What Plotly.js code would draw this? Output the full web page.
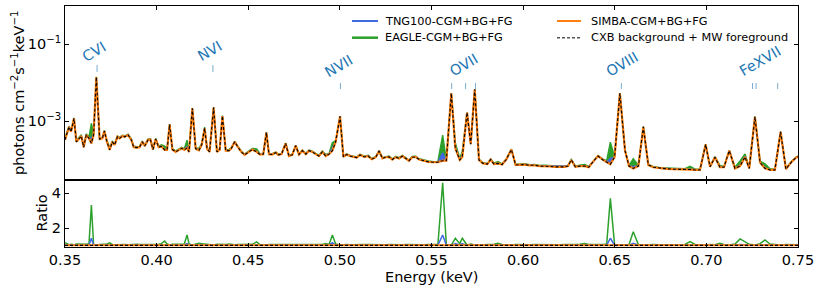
<!DOCTYPE html>
<html><head><meta charset="utf-8">
<script src="https://cdn.plot.ly/plotly-3.0.1.min.js"></script>
<style>html,body{margin:0;padding:0;background:#fff;}#chart{width:822px;height:291px;}</style>
</head><body><div id="chart"></div>
<script>
// ---------------- DATA ----------------
const energy = [
0.3500,0.3522,0.3533,0.3549,0.3562,0.3580,0.3589,0.3602,0.3616,0.3631,
0.3644,0.3656,0.3671,0.3689,0.3704,0.3715,0.3729,0.3744,0.3758,0.3771,
0.3786,0.3798,0.3813,0.3826,0.3844,0.3862,0.3875,0.3893,0.3907,0.3922,
0.3935,0.3953,0.3966,0.3980,0.3995,0.4011,0.4026,0.4044,0.4057,0.4071,
0.4086,0.4104,0.4122,0.4137,0.4151,0.4166,0.4177,0.4195,0.4213,0.4231,
0.4246,0.4262,0.4275,0.4289,0.4311,0.4329,0.4344,0.4359,0.4377,0.4395,
0.4408,0.4426,0.4444,0.4462,0.4480,0.4499,0.4522,0.4546,0.4564,0.4582,
0.4599,0.4613,0.4631,0.4650,0.4664,0.4682,0.4704,0.4722,0.4740,0.4759,
0.4777,0.4795,0.4814,0.4832,0.4850,0.4868,0.4886,0.4904,0.4923,0.4941,
0.4959,0.4977,0.5001,0.5019,0.5037,0.5055,0.5073,0.5092,0.5110,0.5133,
0.5155,0.5174,0.5196,0.5214,0.5232,0.5250,0.5268,0.5286,0.5305,0.5323,
0.5341,0.5359,0.5377,0.5395,0.5414,0.5432,0.5455,0.5483,0.5510,0.5535,
0.5561,0.5581,0.5608,0.5630,0.5654,0.5668,0.5694,0.5714,0.5736,0.5759,
0.5781,0.5805,0.5823,0.5841,0.5863,0.5885,0.5908,0.5936,0.5959,0.5981,
0.6009,0.6036,0.6063,0.6091,0.6118,0.6145,0.6172,0.6200,0.6227,0.6245,
0.6263,0.6285,0.6309,0.6336,0.6358,0.6381,0.6409,0.6436,0.6456,0.6476,
0.6499,0.6528,0.6556,0.6578,0.6601,0.6629,0.6656,0.6683,0.6710,0.6747,
0.6783,0.6820,0.6856,0.6883,0.6911,0.6938,0.6965,0.6996,0.7020,0.7047,
0.7074,0.7096,0.7125,0.7156,0.7184,0.7211,0.7234,0.7265,0.7293,0.7320,
0.7347,0.7374,0.7405,0.7434,0.7465,0.7492,0.7500
];
// CXB background + MW foreground (photons cm^-2 s^-1 keV^-1)
const bgCXB = [
3.24e-4,7.08e-4,5.25e-4,1.17e-3,2.88e-4,3.55e-4,4.07e-4,2.09e-4,4.37e-4,3.55e-4,
2.63e-4,4.37e-4,1.38e-2,3.39e-4,3.55e-4,5.50e-4,2.88e-4,1.78e-4,2.88e-4,2.40e-4,
3.89e-4,3.55e-4,4.07e-4,3.89e-4,4.37e-4,3.24e-4,2.09e-4,2.04e-4,2.09e-4,2.88e-4,
2.24e-4,3.24e-4,3.31e-4,1.82e-4,3.39e-4,2.09e-4,2.19e-4,1.78e-4,1.78e-4,8.13e-4,
1.82e-4,1.58e-4,1.82e-4,1.95e-4,1.78e-4,2.00e-4,1.58e-4,2.14e-3,1.91e-4,1.74e-4,
2.40e-4,6.46e-4,1.91e-4,1.58e-4,2.24e-3,1.58e-4,1.78e-4,1.35e-3,1.70e-4,1.70e-4,
1.95e-4,2.88e-4,2.09e-4,1.58e-4,1.32e-4,1.51e-4,1.82e-4,1.58e-4,1.35e-4,1.38e-4,
5.01e-4,1.38e-4,1.35e-4,1.51e-4,1.32e-4,1.38e-4,2.63e-4,1.23e-4,1.32e-4,2.29e-4,
1.35e-4,1.70e-4,1.38e-4,1.70e-4,1.58e-4,1.38e-4,1.23e-4,1.58e-4,1.23e-4,1.38e-4,
1.70e-4,2.88e-4,1.32e-3,1.17e-4,1.35e-4,1.23e-4,1.17e-4,1.12e-4,1.32e-4,1.17e-4,
1.23e-4,1.02e-4,1.15e-4,1.66e-4,1.07e-4,1.15e-4,1.17e-4,1.00e-4,1.15e-4,1.07e-4,
1.23e-4,1.07e-4,9.33e-5,1.15e-4,1.17e-4,1.00e-4,9.33e-5,8.71e-5,8.51e-5,8.51e-5,
9.33e-5,9.33e-5,5.25e-3,1.95e-4,9.77e-5,1.17e-4,1.66e-3,2.51e-4,6.61e-3,9.77e-5,
7.94e-5,7.59e-5,1.00e-4,7.59e-5,7.94e-5,7.41e-5,1.00e-4,1.82e-4,7.24e-5,7.24e-5,
7.41e-5,7.08e-5,7.08e-5,6.76e-5,6.76e-5,6.61e-5,6.46e-5,6.46e-5,6.46e-5,6.76e-5,
9.77e-5,6.46e-5,6.76e-5,6.76e-5,6.31e-5,8.71e-5,1.23e-4,9.77e-5,8.71e-5,7.59e-5,
1.15e-4,5.25e-3,1.70e-4,6.76e-5,5.89e-5,6.76e-5,7.08e-4,7.24e-5,6.31e-5,5.89e-5,
5.75e-5,5.62e-5,5.62e-5,5.50e-5,5.50e-5,5.37e-5,5.37e-5,2.45e-4,6.46e-5,1.15e-4,
6.31e-5,6.31e-5,1.70e-4,5.89e-5,6.76e-5,1.17e-4,5.89e-5,1.29e-3,8.32e-5,5.89e-5,
5.37e-5,5.37e-5,5.25e-4,5.62e-5,8.71e-5,1.15e-4,1.17e-4
];
// (CGM + BG + FG) / (BG + FG)
const eagleRatio = [
1.15,1.04,1.06,1.03,1.08,1.07,1.08,1.07,1.06,1.10,
3.33,1.05,1.02,1.05,1.06,1.04,1.08,1.15,1.05,1.04,
1.05,1.06,1.05,1.05,1.04,1.06,1.07,1.06,1.05,1.05,
1.06,1.05,1.05,1.07,1.05,1.06,1.10,1.25,1.08,1.02,
1.06,1.07,1.05,1.06,1.08,1.60,1.08,1.02,1.06,1.12,
1.10,1.08,1.06,1.05,1.02,1.06,1.05,1.02,1.05,1.08,
1.05,1.04,1.05,1.06,1.05,1.05,1.06,1.20,1.05,1.04,
1.02,1.05,1.05,1.04,1.05,1.05,1.03,1.06,1.05,1.03,
1.05,1.04,1.05,1.04,1.05,1.05,1.06,1.05,1.10,1.05,
1.60,1.08,1.02,1.05,1.05,1.04,1.05,1.05,1.04,1.05,
1.05,1.04,1.05,1.03,1.05,1.04,1.05,1.04,1.05,1.05,
1.04,1.05,1.04,1.05,1.04,1.05,1.04,1.05,1.04,1.05,
4.61,1.05,1.02,1.41,1.10,1.41,1.02,1.08,1.02,1.05,
1.04,1.05,1.04,1.06,1.12,1.05,1.04,1.02,1.05,1.04,
1.05,1.04,1.05,1.04,1.05,1.04,1.05,1.04,1.05,1.04,
1.03,1.05,1.06,1.10,1.05,1.04,1.03,1.05,1.08,3.71,
1.05,1.02,1.04,1.05,1.79,1.05,1.02,1.04,1.05,1.04,
1.05,1.04,1.05,1.05,1.21,1.05,1.04,1.02,1.05,1.04,
1.12,1.05,1.02,1.08,1.37,1.20,1.06,1.02,1.10,1.31,
1.08,1.05,1.02,1.05,1.04,1.04,1.04
];
const tngRatio = [
1.02,1.01,1.01,1.01,1.01,1.01,1.01,1.01,1.01,1.02,
1.41,1.01,1.00,1.01,1.01,1.01,1.01,1.02,1.01,1.01,
1.01,1.01,1.01,1.01,1.01,1.01,1.01,1.01,1.01,1.01,
1.01,1.01,1.01,1.01,1.01,1.01,1.01,1.03,1.01,1.00,
1.01,1.01,1.01,1.01,1.01,1.10,1.01,1.00,1.01,1.02,
1.01,1.02,1.01,1.01,1.00,1.01,1.01,1.00,1.01,1.01,
1.01,1.01,1.01,1.01,1.01,1.01,1.01,1.02,1.01,1.01,
1.01,1.01,1.01,1.01,1.01,1.01,1.01,1.01,1.01,1.01,
1.01,1.01,1.01,1.01,1.01,1.01,1.01,1.01,1.01,1.01,
1.15,1.01,1.00,1.01,1.01,1.01,1.01,1.01,1.01,1.01,
1.01,1.01,1.01,1.01,1.01,1.01,1.01,1.01,1.01,1.01,
1.01,1.01,1.01,1.01,1.01,1.01,1.01,1.01,1.01,1.01,
1.60,1.01,1.00,1.10,1.02,1.10,1.00,1.01,1.00,1.01,
1.01,1.01,1.01,1.01,1.02,1.01,1.01,1.01,1.01,1.01,
1.01,1.01,1.01,1.01,1.01,1.01,1.01,1.01,1.01,1.01,
1.01,1.01,1.01,1.01,1.01,1.01,1.01,1.01,1.01,1.41,
1.01,1.00,1.01,1.01,1.12,1.01,1.00,1.01,1.01,1.01,
1.01,1.01,1.01,1.01,1.03,1.01,1.01,1.00,1.01,1.01,
1.02,1.01,1.00,1.01,1.05,1.03,1.01,1.00,1.02,1.04,
1.01,1.01,1.00,1.01,1.01,1.01,1.01
];
const simbaRatio = [
1.00,1.00,1.00,1.00,1.00,1.00,1.00,1.00,1.00,1.00,
1.00,1.00,1.00,1.00,1.00,1.00,1.00,1.00,1.00,1.00,
1.00,1.00,1.00,1.00,1.00,1.00,1.00,1.00,1.00,1.00,
1.00,1.00,1.00,1.00,1.00,1.00,1.00,1.00,1.00,1.00,
1.00,1.00,1.00,1.00,1.00,1.00,1.00,1.00,1.00,1.00,
1.00,1.00,1.00,1.00,1.00,1.00,1.00,1.00,1.00,1.00,
1.00,1.00,1.00,1.00,1.00,1.00,1.00,1.00,1.00,1.00,
1.00,1.00,1.00,1.00,1.00,1.00,1.00,1.00,1.00,1.00,
1.00,1.00,1.00,1.00,1.00,1.00,1.00,1.00,1.00,1.00,
1.00,1.00,1.00,1.00,1.00,1.00,1.00,1.00,1.00,1.00,
1.00,1.00,1.00,1.00,1.00,1.00,1.00,1.00,1.00,1.00,
1.00,1.00,1.00,1.00,1.00,1.00,1.00,1.00,1.00,1.00,
1.00,1.00,1.00,1.00,1.00,1.00,1.00,1.00,1.00,1.00,
1.00,1.00,1.00,1.00,1.00,1.00,1.00,1.00,1.00,1.00,
1.00,1.00,1.00,1.00,1.00,1.00,1.00,1.00,1.00,1.00,
1.00,1.00,1.00,1.00,1.00,1.00,1.00,1.00,1.00,1.00,
1.00,1.00,1.00,1.00,1.00,1.00,1.00,1.00,1.00,1.00,
1.00,1.00,1.00,1.00,1.00,1.00,1.00,1.00,1.00,1.00,
1.00,1.00,1.00,1.00,1.00,1.00,1.00,1.00,1.00,1.00,
1.00,1.00,1.00,1.00,1.00,1.00,1.00
];
const seriesNames = ['TNG100-CGM+BG+FG','EAGLE-CGM+BG+FG','SIMBA-CGM+BG+FG','CXB background + MW foreground'];
const lineNames = ['CVI','NVI','NVII','OVII','OVIII','FeXVII'];
const lineEnergies = [[0.3675],[0.4307],[0.5003],[0.5610,0.5686,0.5740],[0.6536],[0.7252,0.7271,0.7389]];
const xTickVals = [0.35,0.40,0.45,0.50,0.55,0.60,0.65,0.70,0.75];
const xTickText = ['0.35','0.40','0.45','0.50','0.55','0.60','0.65','0.70','0.75'];
const yTickVals = [1e-1,1e-3];
const yTickText = ['10<sup>\u22121</sup>','10<sup>\u22123</sup>'];
const rTickVals = [2,4];
const rTickText = ['2','4'];

// ---------------- DERIVED ----------------
const eagleSpec = bgCXB.map((v,i)=>v*eagleRatio[i]);
const tngSpec = bgCXB.map((v,i)=>v*tngRatio[i]);
const simbaSpec = bgCXB.map((v,i)=>v*simbaRatio[i]);
const bgRatio = bgCXB.map(v=>v/v);

// ---------------- STYLE ----------------
const FONT = 'DejaVu Sans, Liberation Sans, sans-serif';
const C_TNG = '#4169e1', C_EAGLE = '#2ca02c', C_SIMBA = '#ff7f0e', C_BG = '#000000';
const C_LBL = '#1f77b4';
const PT = 6, PB = 247, PL = 65, PR = 798;
const py = y => (PB - y) / (PB - PT);
const px = x => (x - PL) / (PR - PL);

const traces = [
  {x: energy, y: bgCXB, xaxis:'x', yaxis:'y', mode:'lines', line:{width:0, color:'rgba(0,0,0,0)'}, hoverinfo:'skip', showlegend:false},
  {x: energy, y: eagleSpec, xaxis:'x', yaxis:'y', mode:'lines', fill:'tonexty', fillcolor:C_EAGLE, line:{color:C_EAGLE, width:1.4}, name:seriesNames[1], showlegend:false},
  {x: energy, y: bgCXB, xaxis:'x', yaxis:'y', mode:'lines', line:{width:0, color:'rgba(0,0,0,0)'}, hoverinfo:'skip', showlegend:false},
  {x: energy, y: tngSpec, xaxis:'x', yaxis:'y', mode:'lines', fill:'tonexty', fillcolor:C_TNG, line:{color:C_TNG, width:1.3}, name:seriesNames[0], showlegend:false},
  {x: energy, y: simbaSpec, xaxis:'x', yaxis:'y', mode:'lines', line:{color:C_SIMBA, width:2.2}, name:seriesNames[2], showlegend:false},
  {x: energy, y: bgCXB, xaxis:'x', yaxis:'y', mode:'lines', line:{color:C_BG, width:1.1, dash:'3px,2px'}, name:seriesNames[3], showlegend:false},
  {x: energy, y: eagleRatio, xaxis:'x2', yaxis:'y2', mode:'lines', line:{color:C_EAGLE, width:1.5}, showlegend:false},
  {x: energy, y: tngRatio, xaxis:'x2', yaxis:'y2', mode:'lines', line:{color:C_TNG, width:1.5}, showlegend:false},
  {x: energy, y: simbaRatio, xaxis:'x2', yaxis:'y2', mode:'lines', line:{color:C_SIMBA, width:2}, showlegend:false},
  {x: energy, y: bgRatio, xaxis:'x2', yaxis:'y2', mode:'lines', line:{color:C_BG, width:1.1, dash:'3px,2px'}, showlegend:false}
];

const axisCommon = {showline:true, linecolor:'#000', linewidth:1, mirror:'ticks', ticks:'inside', ticklen:4, tickwidth:1, tickcolor:'#000', showgrid:false, zeroline:false, tickfont:{family:FONT, size:14.5, color:'#000'}};
const split = 0.279;

const shapes = [];
const annotations = [];
const labelPos = [[0.3656,52],[0.4289,50.5],[0.4995,66],[0.5677,65],[0.6542,63.5],[0.7295,61.5]];
const markRows = [[65,72],[65,72],[83,89],[83,89],[83,89],[83,89]];
lineNames.forEach((nm,k)=>{
  lineEnergies[k].forEach(e=>{
    shapes.push({type:'line', xref:'x', yref:'paper', x0:e, x1:e, y0:py(markRows[k][0]), y1:py(markRows[k][1]), line:{color:'rgba(31,119,180,0.6)', width:1}});
  });
  annotations.push({xref:'x', yref:'paper', x:labelPos[k][0], y:py(labelPos[k][1]), text:nm, showarrow:false, textangle:-30, xanchor:'center', yanchor:'middle', font:{family:FONT, size:14.5, color:C_LBL}});
});
const legRows = [21, 37.7];
const legCols = [[352,378,384],[557,581,590]];
const legItems = [
  {name:seriesNames[0], col:0, row:0, color:C_TNG, width:2, dash:'solid'},
  {name:seriesNames[1], col:0, row:1, color:C_EAGLE, width:2.5, dash:'solid'},
  {name:seriesNames[2], col:1, row:0, color:C_SIMBA, width:2, dash:'solid'},
  {name:seriesNames[3], col:1, row:1, color:'#555', width:1.5, dash:'3px,2px'}
];
legItems.forEach(it=>{
  const c = legCols[it.col], yy = py(legRows[it.row]);
  shapes.push({type:'line', xref:'paper', yref:'paper', x0:px(c[0]), x1:px(c[1]), y0:yy, y1:yy, line:{color:it.color, width:it.width, dash:it.dash}});
  annotations.push({xref:'paper', yref:'paper', x:px(c[2]), y:yy, text:it.name, showarrow:false, xanchor:'left', yanchor:'middle', borderpad:0, font:{family:FONT, size:11.3, color:'#000'}});
});
annotations.push({xref:'paper', yref:'paper', x:px(18), y:py(93), text:'photons cm<sup>\u22122</sup>s<sup>\u22121</sup>keV<sup>\u22121</sup>', showarrow:false, textangle:-90, xanchor:'center', yanchor:'middle', font:{family:FONT, size:14.5, color:'#000'}});
annotations.push({xref:'paper', yref:'paper', x:px(41), y:py(213.5), text:'Ratio', showarrow:false, textangle:-90, xanchor:'center', yanchor:'middle', font:{family:FONT, size:14.5, color:'#000'}});
annotations.push({xref:'paper', yref:'paper', x:px(431.5), y:py(277), text:'Energy (keV)', showarrow:false, xanchor:'center', yanchor:'middle', font:{family:FONT, size:14.5, color:'#000'}});

const layout = {
  width:822, height:291,
  margin:{l:PL, r:822-PR, t:PT, b:291-PB, pad:0},
  paper_bgcolor:'#fff', plot_bgcolor:'#fff',
  showlegend:false,
  font:{family:FONT, size:14.5, color:'#000'},
  xaxis: Object.assign({}, axisCommon, {domain:[0,1], anchor:'y', range:[0.35,0.75], tickvals:xTickVals, ticktext:xTickText, showticklabels:false}),
  yaxis: Object.assign({}, axisCommon, {domain:[split,1], anchor:'x', type:'log', range:[-4.525,-0.013], tickvals:yTickVals, ticktext:yTickText}),
  xaxis2: Object.assign({}, axisCommon, {domain:[0,1], anchor:'y2', range:[0.35,0.75], tickvals:xTickVals, ticktext:xTickText}),
  yaxis2: Object.assign({}, axisCommon, {domain:[0,split], anchor:'x2', range:[0.905,4.784], tickvals:rTickVals, ticktext:rTickText}),
  shapes: shapes,
  annotations: annotations
};
Plotly.newPlot('chart', traces, layout, {staticPlot:true, displayModeBar:false});
</script>
</body></html>
